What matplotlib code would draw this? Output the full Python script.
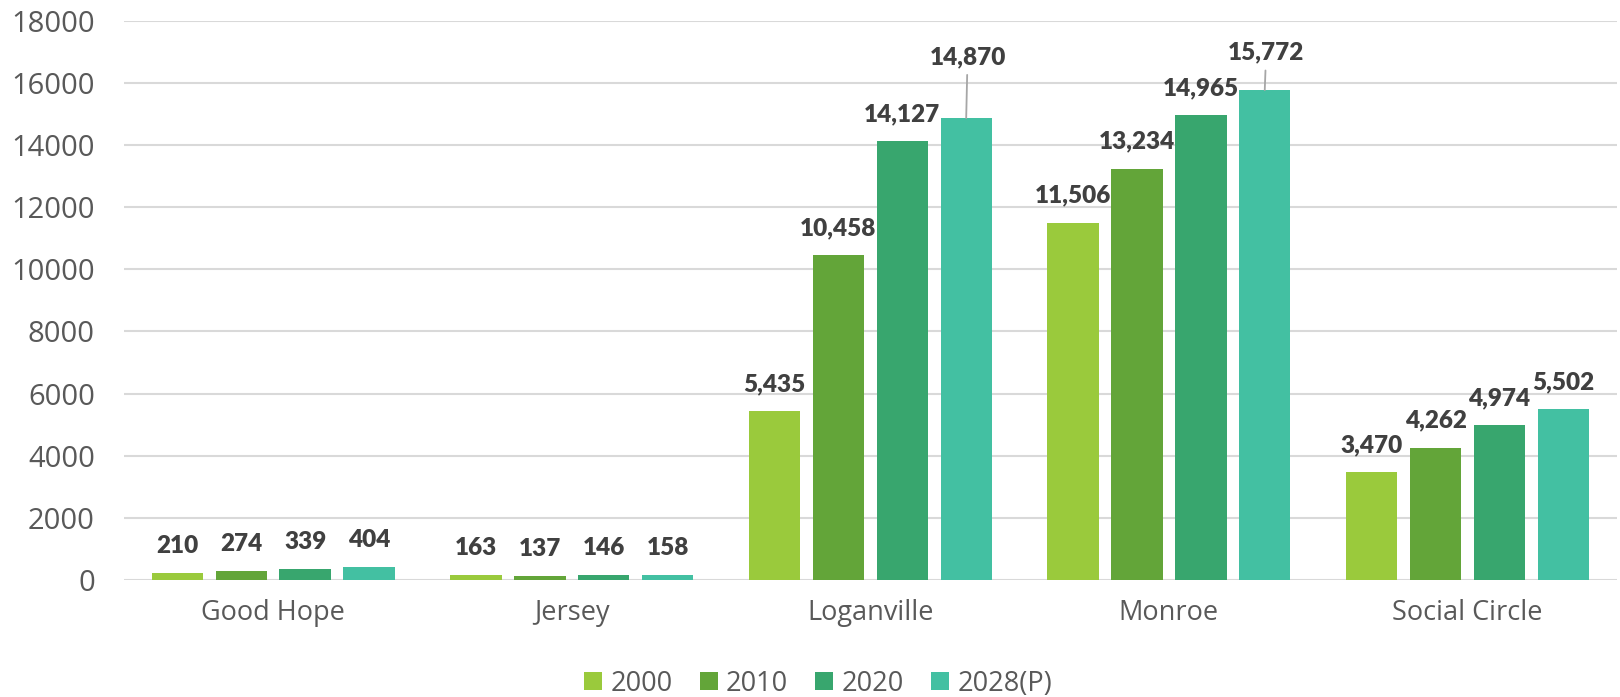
import numpy as np
import matplotlib
matplotlib.use('Agg')
from matplotlib import pyplot as plt

# population by city and census year
cities = ['Good Hope', 'Jersey', 'Loganville', 'Monroe', 'Social Circle']
years = ['2000', '2010', '2020', '2028(P)']
pop_2000 = [210, 163, 5435, 11506, 3470]
pop_2010 = [274, 137, 10458, 13234, 4262]
pop_2020 = [339, 146, 14127, 14965, 4974]
pop_2028 = [404, 158, 14870, 15772, 5502]
series = [pop_2000, pop_2010, pop_2020, pop_2028]
colors = ['#9ACA3C', '#63A539', '#38A66E', '#43C0A2']

fig = plt.figure(figsize=(16.2, 6.97), dpi=100)
ax = fig.add_axes([0.0765, 0.168, 0.9215, 0.802])

x = np.arange(len(cities))
width = 0.172
step = 0.214
for i, (vals, col) in enumerate(zip(series, colors)):
    pos = x + (i - 1.5) * step
    ax.bar(pos, vals, width, color=col, label=years[i], zorder=3)
    for p, v in zip(pos, vals):
        txt = f'{v:,}'
        # the two tallest projected bars get lifted labels with a leader line
        if i == 3 and v in (14870, 15772):
            lift = 39 if v == 14870 else 22
            ax.annotate(txt, (p, v), xytext=(1, lift), textcoords='offset points',
                        ha='center', va='baseline', fontsize=17.5, fontweight='heavy',
                        family='Lato', color='#404040',
                        arrowprops=dict(arrowstyle='-', color='#A6A6A6', lw=1.3,
                                        shrinkA=3, shrinkB=0))
        else:
            ax.annotate(txt, (p, v), xytext=(0, 14.5), textcoords='offset points',
                        ha='center', va='baseline', fontsize=17.5, fontweight='heavy',
                        family='Lato', color='#404040')

ax.set_xlim(-0.5, 4.5)
ax.set_ylim(0, 18000)
ax.set_yticks(np.arange(0, 18001, 2000))
ax.set_xticks(x)
ax.set_xticklabels(cities)
ax.grid(axis='y', color='#D9D9D9', lw=1.5, zorder=0)
for s in ['top', 'right', 'left', 'bottom']:
    ax.spines[s].set_visible(False)
ax.tick_params(axis='both', length=0, colors='#595959')
ax.tick_params(axis='y', labelsize=21, pad=21)
ax.tick_params(axis='x', labelsize=19.5, pad=14)
for lab in ax.get_yticklabels() + ax.get_xticklabels():
    lab.set_family('Open Sans')

fig.legend(loc='center', bbox_to_anchor=(0.505, 0.019), ncol=4, frameon=False,
           prop={'family': 'Open Sans', 'size': 19.5}, labelcolor='#595959',
           handlelength=0.67, handleheight=0.67, handletextpad=0.3,
           columnspacing=1.0)

fig.savefig('out.png', dpi=100)
